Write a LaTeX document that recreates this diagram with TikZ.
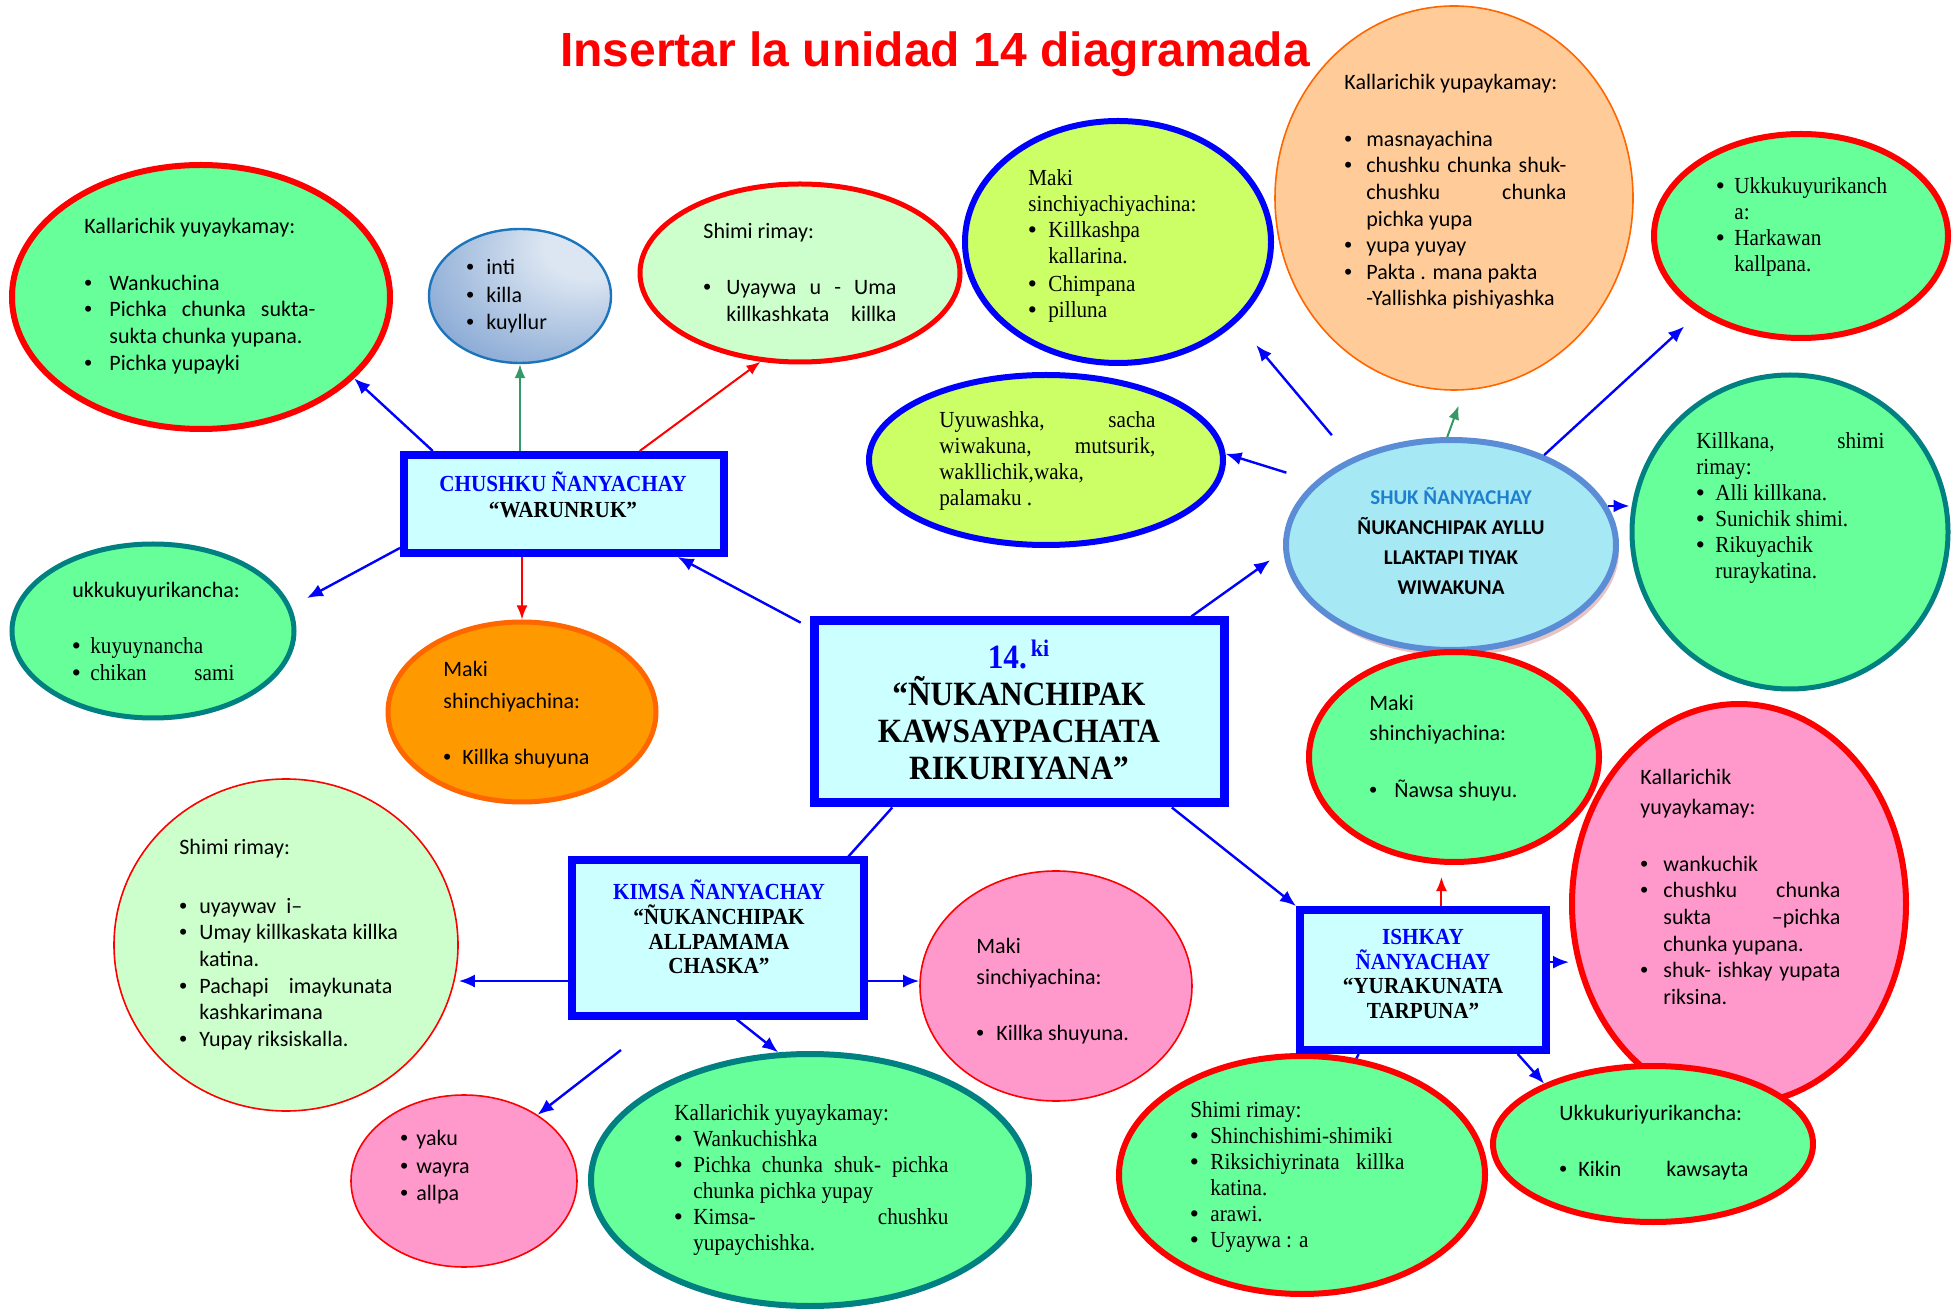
\documentclass[tikz,border=0pt]{standalone}
\usepackage{fontspec}
\usepackage{xcolor}
\usetikzlibrary{shapes.geometric,arrows.meta,shadows,calc}
\setmainfont{Liberation Serif}
\newfontfamily\tnr[FakeStretch=0.92]{Liberation Serif}
\newfontfamily\calib{Carlito}
\newfontfamily\arial{Liberation Sans}

\definecolor{grn}{HTML}{66FF99}
\definecolor{lgrn}{HTML}{CCFFCC}
\definecolor{ygrn}{HTML}{CCFF66}
\definecolor{peach}{HTML}{FFCC99}
\definecolor{pnk}{HTML}{FF99CC}
\definecolor{orng}{HTML}{FF9900}
\definecolor{dorng}{HTML}{FF6600}
\definecolor{cyanbox}{HTML}{CCFFFF}
\definecolor{tealb}{HTML}{008080}
\definecolor{shukfill}{HTML}{A6E9F5}
\definecolor{shukline}{HTML}{5B8DD6}
\definecolor{shukblue}{HTML}{1F7FCF}
\definecolor{shadowpink}{HTML}{E6C4C4}
\definecolor{darrow}{HTML}{339966}
\definecolor{skyd}{HTML}{4F7FC0}
\definecolor{skyl}{HTML}{DCE6F2}
\definecolor{skyline}{HTML}{1C75BC}

% gradient of the small sky bubble
\pgfdeclareradialshading{skyshade}{\pgfpoint{22bp}{22bp}}{color(0bp)=(skyl); color(12bp)=(skyl); color(62bp)=(skyd); color(80bp)=(skyd)}

% bullets
\newcommand{\bu}[1][9pt]{\makebox[#1][l]{\arial\textbullet}}
\newcommand{\hg}[1][9pt]{\hspace*{#1}}

\tikzset{
  dims/.style 2 args={minimum width=#1pt, minimum height=#2pt},
  bub/.style={ellipse, inner sep=0pt, fill=grn, draw=red, line width=3pt},
  box/.style={rectangle, inner sep=0pt, fill=cyanbox, draw=blue, line width=4pt},
  txt/.style={anchor=north west, inner sep=0pt, align=left},
  calfont/.style={font=\calib\fontsize{11}{13.3}\selectfont},
  tnrfont/.style={font=\tnr\fontsize{11.5}{13}\selectfont},
  boxtxt/.style={align=center, inner sep=0pt, font=\tnr\bfseries\fontsize{11.5}{12.4}\selectfont},
  barrow/.style={draw=blue, line width=1.2pt, -{Latex[length=8pt,width=6.5pt]}},
  rarrow/.style={draw=red, line width=1pt, -{Latex[length=7pt,width=5.5pt]}},
  garrow/.style={draw=darrow, line width=1pt, -{Latex[length=7pt,width=5.5pt]}}
}

\begin{document}
\begin{tikzpicture}[x=0.5pt, y=-0.5pt]
        \useasboundingbox (0,0) rectangle (1960,1309);

        % title
        \node[font=\arial\bfseries\fontsize{24}{28}\selectfont, text=red] (title) at (935,54) {Insertar la unidad 14 diagramada};

        % bubbles
        \node[bub, dims={189}{132}] (kall1) at (201,297) {};
        \node[ellipse, dims={91}{67}, draw=skyline, line width=1.2pt, shade, shading=skyshade] (sky) at (520,296) {};
        \node[bub, fill=lgrn, line width=2.5pt, dims={160}{89}] (shimi1) at (800,273) {};
        \node[bub, fill=ygrn, draw=blue, dims={153}{121}] (makiy) at (1118,242) {};
        \node[bub, fill=peach, draw=dorng, line width=0.8pt, dims={179}{192}] (kall2) at (1454,198) {};
        \node[bub, dims={147}{102}] (ukku2) at (1801,236) {};
        \node[bub, fill=ygrn, draw=blue, dims={177}{85}] (uyu) at (1046,460) {};
        \node[bub, fill=shukfill, draw=shukline, dims={165}{105},
              drop shadow={fill=shadowpink, shadow xshift=1.5pt, shadow yshift=-3pt, opacity=1}] (shuk) at (1451,545) {};
        \node[bub, draw=tealb, line width=2.5pt, dims={158}{157}] (killk) at (1790,532) {};
        \node[bub, draw=tealb, line width=2.5pt, dims={141}{87}] (ukku1) at (153,631) {};
        \node[bub, fill=orng, draw=dorng, line width=2.5pt, dims={134}{90}] (maki1) at (522,712) {};
        \node[bub, fill=lgrn, line width=0.8pt, dims={172}{166}] (shimi2) at (286,945) {};
        \node[bub, fill=pnk, line width=0.8pt, dims={136}{115}] (maki2) at (1056,986) {};
        \node[bub, fill=pnk, line width=0.8pt, dims={113}{86}] (yaku) at (464,1181) {};
        \node[bub, draw=tealb, dims={219}{126}] (kall3) at (810,1180) {};
        \node[bub, dims={145}{105}] (maki3) at (1454,757) {};
        \node[bub, fill=pnk, dims={167}{200}] (kall4) at (1739,904) {};
        \node[bub, dims={183}{119}] (shimi3) at (1302,1175) {};
        \node[bub, dims={160}{78}] (ukku3) at (1653,1144) {};

        % boxes
        \node[box, line width=4.5pt, dims={205}{91}] (main) at (1019,712) {};
        \node[box, dims={160}{49}] (chushku) at (564,504) {};
        \node[box, dims={146}{77.5}] (kimsa) at (718,938) {};
        \node[box, dims={123}{70}] (ishkay) at (1423,980) {};

        % free end
        \coordinate (k4) at (621,1050);

        % Text
        \node[txt, calfont] (kall1t) at (84,218) {Kallarichik yuyaykamay:\\[15pt]
            \bu[12.5pt]Wankuchina\\
            \bu[12.5pt]\makebox[103pt][s]{Pichka chunka sukta-}\\
            \hg[12.5pt]sukta chunka yupana.\\
            \bu[12.5pt]Pichka yupayki};
        \node[txt, calfont] (skyt) at (466,259) {\bu[10pt]inti\\[0.5pt] \bu[10pt]killa\\[0.5pt] \bu[10pt]kuyllur};
        \node[txt, calfont] (shimi1t) at (703,223) {Shimi rimay:\\[14.7pt]
            \bu[11.5pt]\makebox[85pt][s]{Uyaywa u - Uma}\\
            \hg[11.5pt]\makebox[85pt][s]{killkashkata killka}};
        \node[txt, tnrfont] (makiyt) at (1028,169) {Maki\\ sinchiyachiyachina:\\
            \bu[10pt]Killkashpa\\ \hg[10pt]kallarina.\\[1pt]
            \bu[10pt]Chimpana\\ \bu[10pt]pilluna};
        \node[txt, calfont] (kall2t) at (1344,74) {Kallarichik yupaykamay:\\[15pt]
            \bu[11pt]masnayachina\\
            \bu[11pt]\makebox[100pt][s]{chushku chunka shuk-}\\
            \hg[11pt]\makebox[100pt][s]{chushku chunka}\\
            \hg[11pt]pichka yupa\\
            \bu[11pt]yupa yuyay\\
            \bu[11pt]Pakta . mana pakta\\
            \hg[11pt]-Yallishka pishiyashka};
        \node[txt, tnrfont] (ukku2t) at (1716,177) {\bu[9pt]Ukkukuyurikanch\\ \hg[9pt]a:\\
            \bu[9pt]Harkawan\\ \hg[9pt]kallpana.};
        \node[txt, tnrfont] (uyut) at (939,411) {\makebox[108pt][s]{Uyuwashka, sacha}\\
            \makebox[108pt][s]{wiwakuna, mutsurik,}\\ wakllichik,waka,\\ palamaku .};
        \node[align=center, inner sep=0pt, font=\calib\bfseries\fontsize{10.5}{15}\selectfont] (shukt) at (1451,541)
            {{\color{shukblue}SHUK ÑANYACHAY}\\ ÑUKANCHIPAK AYLLU\\ LLAKTAPI TIYAK\\ WIWAKUNA};
        \node[txt, tnrfont] (killkt) at (1696,432) {\makebox[94pt][s]{Killkana, shimi}\\ rimay:\\
            \bu[9.5pt]Alli killkana.\\ \bu[9.5pt]Sunichik shimi.\\
            \bu[9.5pt]Rikuyachik\\ \hg[9.5pt]ruraykatina.};
        \node[txt, tnrfont] (ukku1t) at (72,582) {{\calib\fontsize{11}{13.3}\selectfont ukkukuyurikancha:}\\[15pt]
            \bu[9pt]kuyuynancha\\[0.5pt] \bu[9pt]\makebox[72pt][s]{chikan sami}};
        \node[txt, calfont] (maki1t) at (443,661) {Maki\\[2.7pt] shinchiyachina:\\[14.7pt] \bu[9.5pt]Killka shuyuna};
        \node[txt, calfont] (shimi2t) at (179,839) {Shimi rimay:\\[16pt]
            \bu[10pt]uyaywav\ \ i–\\
            \bu[10pt]Umay killkaskata killka\\
            \hg[10pt]katina.\\
            \bu[10pt]\makebox[96.5pt][s]{Pachapi imaykunata}\\
            \hg[10pt]kashkarimana\\
            \bu[10pt]Yupay riksiskalla.};
        \node[txt, calfont] (maki2t) at (976,938) {Maki\\[2.2pt] sinchiyachina:\\[14.7pt] \bu[10pt]Killka shuyuna.};
        \node[txt, calfont] (yakut) at (400,1130) {\bu[8pt]yaku\\[0.5pt] \bu[8pt]wayra\\[0.5pt] \bu[8pt]allpa};
        \node[txt, tnrfont] (kall3t) at (674,1104) {Kallarichik yuyaykamay:\\
            \bu[9.5pt]Wankuchishka\\
            \bu[9.5pt]\makebox[127.5pt][s]{Pichka chunka shuk- pichka}\\
            \hg[9.5pt]chunka pichka yupay\\
            \bu[9.5pt]\makebox[127.5pt][s]{Kimsa- chushku}\\
            \hg[9.5pt]yupaychishka.};
        \node[txt, calfont] (maki3t) at (1369,695) {Maki\\[1.7pt] shinchiyachina:\\[15pt] \bu[12.5pt]Ñawsa shuyu.};
        \node[txt, calfont] (kall4t) at (1640,769) {Kallarichik\\[1.7pt] yuyaykamay:\\[15pt]
            \bu[11.5pt]wankuchik\\
            \bu[11.5pt]\makebox[88.5pt][s]{chushku chunka}\\
            \hg[11.5pt]\makebox[88.5pt][s]{sukta –pichka}\\
            \hg[11.5pt]chunka yupana.\\
            \bu[11.5pt]\makebox[88.5pt][s]{shuk- ishkay yupata}\\
            \hg[11.5pt]riksina.};
        \node[txt, tnrfont] (shimi3t) at (1190,1101) {Shimi rimay:\\
            \bu[10pt]Shinchishimi-shimiki\\
            \bu[10pt]\makebox[97pt][s]{Riksichiyrinata killka}\\
            \hg[10pt]katina.\\
            \bu[10pt]arawi.\\
            \bu[10pt]Uyaywa : a};
        \node[txt, calfont] (ukku3t) at (1559,1105) {Ukkukuriyurikancha:\\[14.5pt] \bu[9.5pt]\makebox[85pt][s]{Kikin kawsayta}};

        % Text in boxes
        \node[align=center, inner sep=0pt, font=\tnr\bfseries\fontsize{17}{18.5}\selectfont] (maint) at (1019,710)
            {{\color{blue}14.\textsuperscript{\,ki}}\\ “ÑUKANCHIPAK\\ KAWSAYPACHATA\\ RIKURIYANA”};
        \node[boxtxt, font=\tnr\bfseries\fontsize{11.5}{13}\selectfont] (chushkut) at (563,495) {{\color{blue}CHUSHKU ÑANYACHAY}\\ “WARUNRUK”};
        \node[boxtxt] (kimsat) at (719,927) {{\color{blue}KIMSA ÑANYACHAY}\\ “ÑUKANCHIPAK\\ ALLPAMAMA\\ CHASKA”};
        \node[boxtxt] (ishkayt) at (1423,974) {{\color{blue}ISHKAY}\\ {\color{blue}ÑANYACHAY}\\ “YURAKUNATA\\ TARPUNA”};

        % arrows
        \draw[barrow] (chushku.158) -- (kall1.-28);
        \draw[garrow] (sky.south |- chushku.north) -- (sky.south);
        \draw[rarrow] (chushku.35) -- (shimi1.246);
        \draw[barrow, shorten >=9pt] (chushku.195) -- (ukku1.10);
        \draw[rarrow] (maki1.north |- chushku.south) -- (maki1.north);
        \draw[barrow, shorten <=5pt] (main.158) -- (chushku.-25);
        \draw[barrow, shorten >=8pt] (main.29) -- (shuk.182);
        \draw[barrow, shorten <=15pt, shorten >=15pt] (shuk.139) -- (makiy.-34);
        \draw[garrow, shorten >=8pt] (shuk.92) -- (kall2.-87);
        \draw[barrow, shorten >=10pt] (shuk.44) -- (ukku2.217);
        \draw[barrow, shorten <=15pt] (shuk.155) -- (uyu.2);
        \draw[barrow] (shuk.14) -- (shuk.14 -| killk.west);
        \draw[blue, line width=1.2pt] (main.217) -- (kimsa.32);
        \draw[barrow] (main.-32) -- (ishkay.north west);
        \draw[barrow] (kimsa.196) -- (kimsa.196 -| shimi2.east);
        \draw[barrow] (kimsa.-16) -- (kimsa.-16 -| maki2.west);
        \draw[barrow] (kimsa.-77) -- (kall3.104);
        \draw[barrow] (k4) -- (yaku.42);
        \draw[rarrow, shorten >=6pt] (ishkay.76) -- (ishkay.76 |- maki3.south);
        \draw[barrow] (ishkay.8) -- (ishkay.8 -| kall4.west);
        \draw[blue, line width=1.2pt] (ishkay.-131) -- (shimi3.65);
        \draw[barrow] (ishkay.-38) -- (ukku3.151);

\end{tikzpicture}
\end{document}
